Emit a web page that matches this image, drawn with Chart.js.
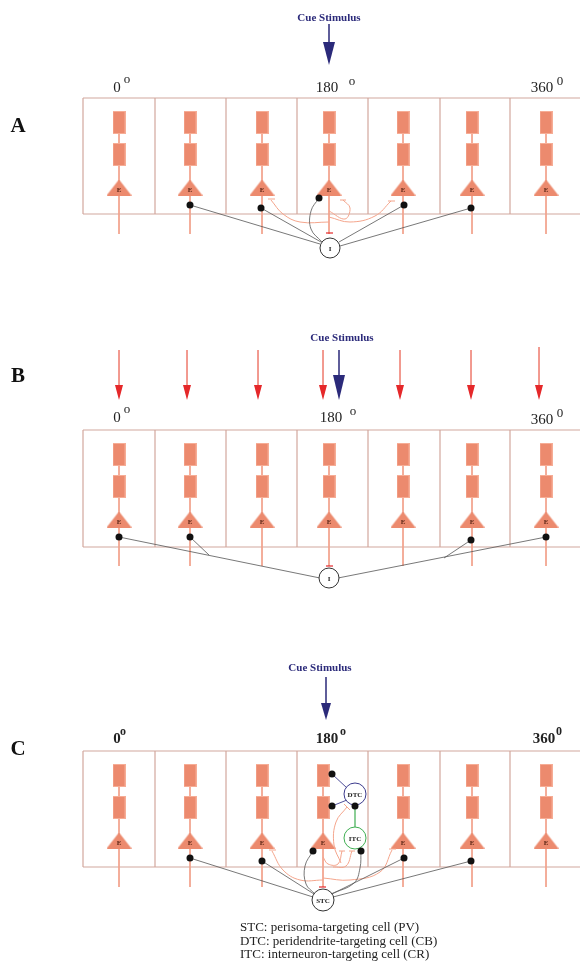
<!DOCTYPE html>
<html>
<head>
<meta charset="utf-8">
<style>
	body { margin: 0; background: #fff; }
	canvas { display: block; }
</style>
<script src="https://cdn.jsdelivr.net/npm/chart.js@4"></script>
</head>
<body>
<canvas id="canDiagram" width="580" height="961"></canvas>
<script>
'use strict'

//////////////////////////////////////////////////////////////////////
// data (pixel space of the figure, 0..580 x 0..961)

// panels
const panelLetters = ['A', 'B', 'C'];
const panelLetterY = [127, 377, 750];
const boxTop = [98, 430, 751];
const boxBottom = [214, 547, 867];
const boxRight = 580;
const dividerX = [83, 155, 226, 297, 368, 440, 510];

// E neurons
const neuronX = [
	[119, 190, 262, 329, 403, 472, 546],
	[119, 190, 262, 329, 403, 472, 546],
	[119, 190, 262, 323, 403, 472, 546]];
const rect1Off = 24.5, rect2Off = 56.5, triOff = 89.5, stemTopOff = 13, stemBotOff = 136;

// degree labels
const degreeText = ['0', '180', '360'];
const degreeX = [[117, 327, 542], [117, 331, 542], [117, 327, 544]];
const degreeY = [[88, 88, 88], [418, 418, 420], [739, 739, 739]];
const supText = ['o', 'o', '0'];
const supX = [[127, 352, 560], [127, 353, 560], [123, 343, 559]];
const supY = [[80, 82, 82], [410, 412, 414], [732, 732, 732]];

// cue stimulus
const cueText = 'Cue Stimulus';
const cueLabelX = [329, 342, 320];
const cueLabelY = [18, 338, 668];
const cueArrowX = [329, 339, 326];
const cueArrowTop = [24, 350, 677];
const cueArrowTip = [65, 400, 720];
const cueHeadLen = [23, 25, 17];
const cueHeadW = [12, 12, 10];

// B: red input arrows
const redArrowX = [119, 187, 258, 323, 400, 471, 539];
const redArrowTop = [350, 350, 350, 350, 350, 350, 347];
const redArrowTip = 400;

// synapse dots
const dotsA = [[190, 205], [261, 208], [319, 198], [404, 205], [471, 208]];
const dotsB = [[119, 537], [190, 537], [471, 540], [546, 537]];
const dotsC = [[332, 774], [332, 806], [355, 806], [313, 851], [361, 851], [190, 858], [262, 861], [404, 858], [471, 861]];

// interneurons
const cellNames = ['I', 'I', 'STC', 'DTC', 'ITC'];
const cellX = [330, 329, 323, 355, 355];
const cellY = [248, 578, 900, 794, 838];
const cellR = [10, 10, 11, 11, 11];
const cellColor = ['#333', '#333', '#333', '#3b3a8c', '#3fae52'];

// black connections
const blackLinks = [
	[[190, 205], [320, 244]], [[261, 208], [321, 242]], [[404, 205], [339, 242]], [[471, 208], [340, 246]],
	[[119, 537], [320, 578]], [[190, 537], [209, 555]], [[546, 537], [338, 578]], [[471, 540], [444, 558]],
	[[190, 858], [313, 897]], [[262, 861], [314, 894]], [[404, 858], [332, 894]], [[471, 861], [333, 897]]];
const blackCurves = [
	[[319, 198], [311, 211], [311, 229], [322, 242]],
	[[313, 851], [305, 866], [306, 884], [315, 894]],
	[[361, 851], [360, 868], [354, 883], [331, 894]]];
const navyLinks = [[[332, 774], [347, 788]], [[332, 806], [347, 800]]];
const greenLinks = [[[355, 806], [355, 827]]];

// orange (recurrent) curves and their bar ends
const orangeCurves = [
	[[329, 222], [300, 222], [283, 214], [271, 200]],
	[[329, 217], [350, 222], [375, 216], [391, 201]],
	[[329, 211], [345, 219], [350, 208], [343, 200]],
	[[323, 880], [300, 880], [283, 870], [272, 851]],
	[[323, 878], [350, 880], [380, 872], [392, 850]],
	[[323, 857], [328, 864], [338, 864], [342, 851]],
	[[333, 867], [346, 866], [352, 851]],
	[[341, 863], [334, 845], [336, 822], [347, 807]]];
const orangeBars = [
	[[268, 199], [275, 199]], [[388, 201], [395, 201]], [[340, 200], [346, 200]],
	[[269, 850], [276, 850]], [[389, 849], [396, 849]], [[339, 851], [345, 851]],
	[[349, 851], [355, 851]], [[344, 804], [350, 810]]];
const redBars = [[[326, 233], [333, 233]], [[326, 566], [333, 566]], [[319, 887], [326, 887]]];

// legend
const legendLines = [
	'STC: perisoma-targeting cell (PV)',
	'DTC: peridendrite-targeting cell (CB)',
	'ITC: interneuron-targeting cell (CR)'];
const legendX = 240;
const legendY = [928, 942, 955];


//////////////////////////////////////////////////////////////////////
// styles
const SERIF = '"Liberation Serif", "DejaVu Serif", serif';
const C_BOX = '#d2a79d';
const C_STEM = '#f2a38d';
const C_FILL = '#ec8a6e';
const C_ORANGE = '#f4a58c';
const C_NAVY = '#2b2a7a';
const C_RED = '#e5282a';

// point images
let makeCanvas = function (w, h, draw) {
	const c = document.createElement('canvas');
	c.width = w; c.height = h;
	draw(c.getContext('2d'), w, h);
	return c;
};
const imgRect = makeCanvas(13, 23, (g, w, h) => {
	g.fillStyle = C_FILL; g.fillRect(0, 0, w, h);
	g.strokeStyle = '#f6ad96'; g.lineWidth = 1; g.strokeRect(0.5, 0.5, w - 1, h - 1);
});
const imgTri = makeCanvas(25, 16, (g, w, h) => {
	g.fillStyle = C_FILL;
	g.beginPath(); g.moveTo(w / 2, 0); g.lineTo(w, h); g.lineTo(0, h); g.closePath(); g.fill();
});
let makeHead = function (w, h, color) {
	return makeCanvas(w, h, (g) => {
		g.fillStyle = color;
		g.beginPath(); g.moveTo(0, 0); g.lineTo(w, 0); g.lineTo(w / 2, h); g.closePath(); g.fill();
	});
};

//////////////////////////////////////////////////////////////////////
// datasets (pushed in paint order)
let paint = [];
let pt = (p) => ({ x: p[0], y: p[1] });

let addLine = function (points, color, width, tension) {
	paint.push({
		data: points.map(pt), showLine: true, borderColor: color, borderWidth: width,
		pointRadius: 0, tension: tension || 0, clip: false
	});
};
let addMarks = function (points, style, radius, fill, stroke, border) {
	paint.push({
		data: points.map(pt), showLine: false, pointStyle: style, pointRadius: radius,
		backgroundColor: fill, borderColor: stroke, borderWidth: border || 0, clip: false
	});
};

let texts = [];
let addText = function (text, x, y, font, color, align) {
	texts.push({ text, x, y, font, color, align: align || 'center' });
};

for (let p = 0; p < 3; p++) {
	const top = boxTop[p], bot = boxBottom[p];

	// box grid
	addLine([[dividerX[0], top], [boxRight, top]], C_BOX, 1.2);
	addLine([[dividerX[0], bot], [boxRight, bot]], C_BOX, 1.2);
	dividerX.forEach((x) => addLine([[x, top], [x, bot]], C_BOX, 1.2));

	// stems
	neuronX[p].forEach((x) => addLine([[x, top + stemTopOff], [x, top + stemBotOff]], C_STEM, 1));

	// rects and triangles
	addMarks(neuronX[p].map((x) => [x, top + rect1Off]), imgRect, 6);
	addMarks(neuronX[p].map((x) => [x, top + rect2Off]), imgRect, 6);
	addMarks(neuronX[p].map((x) => [x, top + triOff]), imgTri, 6);
	neuronX[p].forEach((x) => addText('E', x, top + triOff + 3, 'bold 7px ' + SERIF, '#5b2616'));

	// labels
	addText(panelLetters[p], 18, panelLetterY[p], 'bold 21px ' + SERIF, '#111');
	const bold = p === 2 ? 'bold ' : '';
	for (let i = 0; i < 3; i++) {
		addText(degreeText[i], degreeX[p][i], degreeY[p][i], bold + '15px ' + SERIF, '#222');
		addText(supText[i], supX[p][i], supY[p][i], bold + (p === 2 ? '12px ' : '13px ') + SERIF, '#222');
	}

	// cue stimulus
	addText(cueText, cueLabelX[p], cueLabelY[p], 'bold 11px ' + SERIF, C_NAVY);
	addLine([[cueArrowX[p], cueArrowTop[p]], [cueArrowX[p], cueArrowTip[p] - cueHeadLen[p] + 1]], C_NAVY, 1.5);
	addMarks([[cueArrowX[p], cueArrowTip[p] - cueHeadLen[p] / 2]], makeHead(cueHeadW[p], cueHeadLen[p], C_NAVY), 6);
}

// B red arrows
const redHead = makeHead(8, 15, C_RED);
redArrowX.forEach((x, i) => addLine([[x, redArrowTop[i]], [x, redArrowTip - 14]], '#f08c80', 1));
addMarks(redArrowX.map((x) => [x, redArrowTip - 7.5]), redHead, 6);

// connections
orangeCurves.forEach((c) => addLine(c, C_ORANGE, 1, 0.4));
orangeBars.forEach((b) => addLine(b, C_ORANGE, 1));
redBars.forEach((b) => addLine(b, C_RED, 1.2));
blackLinks.forEach((l) => addLine(l, '#555', 0.8));
blackCurves.forEach((c) => addLine(c, '#555', 0.8, 0.4));
navyLinks.forEach((l) => addLine(l, '#3b3a8c', 0.9));
greenLinks.forEach((l) => addLine(l, '#3fae52', 1.2));

// interneurons
cellNames.forEach((n, i) => {
	addMarks([[cellX[i], cellY[i]]], 'circle', cellR[i], '#fff', cellColor[i], 1);
	addText(n, cellX[i], cellY[i] + 1, 'bold 7px ' + SERIF, '#222');
});

// dots
addMarks(dotsA.concat(dotsB, dotsC), 'circle', 3.5, '#111', '#111', 0);

// legend
legendLines.forEach((t, i) => addText(t, legendX, legendY[i], '13px ' + SERIF, '#222', 'left'));


//////////////////////////////////////////////////////////////////////
// text drawing plugin
const textPlugin = {
	id: 'diagramTexts',
	afterDatasetsDraw(chart) {
		const ctx = chart.ctx;
		const sx = chart.scales.x, sy = chart.scales.y;
		ctx.save();
		ctx.textBaseline = 'middle';
		for (const t of texts) {
			ctx.font = t.font;
			ctx.fillStyle = t.color;
			ctx.textAlign = t.align;
			ctx.fillText(t.text, sx.getPixelForValue(t.x), sy.getPixelForValue(t.y));
		}
		ctx.restore();
	}
};

const ctxDiagram = document.getElementById('canDiagram').getContext('2d');
const myChart = new Chart(ctxDiagram, {
	type: 'scatter',
	data: { datasets: paint.slice().reverse() },  // first dataset is drawn on top
	options: {
		responsive: false,
		animation: false,
		events: [],
		layout: { autoPadding: false, padding: 0 },
		plugins: { legend: { display: false }, tooltip: { enabled: false } },
		scales: {
			x: { type: 'linear', min: 0, max: 580, display: false },
			y: { type: 'linear', min: 0, max: 961, reverse: true, display: false }
		}
	},
	plugins: [textPlugin]
});
</script>
</body>
</html>
